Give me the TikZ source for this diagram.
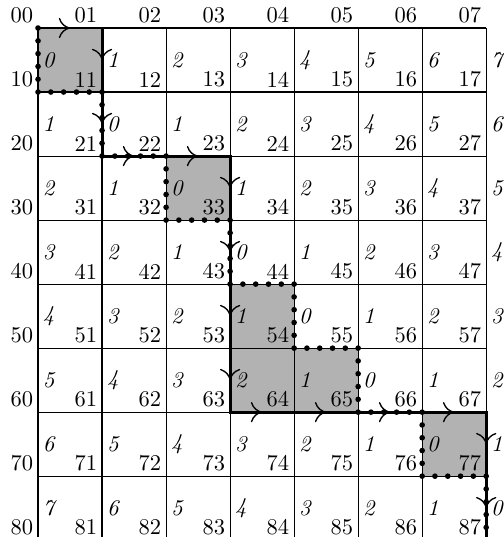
\documentclass[tikz,border=0pt]{standalone}
\usetikzlibrary{decorations.markings,arrows.meta}
\begin{document}
\begin{tikzpicture}[
        gridline/.style={line width=0.5pt},
        cell/.style={fill=gray!60},
        walk/.style={line width=1.3pt, postaction={decorate},
            decoration={markings, mark=between positions 0.5cm and 14.6cm step 1cm
                with {\arrow{To[length=5pt,width=9pt,line width=0.6pt]}}}},
        diag/.style={line width=2.5pt, line cap=round, dash pattern=on 0pt off 0.2cm},
        corner/.style={anchor=south east, inner sep=2pt},
        weight/.style={anchor=west, inner sep=2pt, font=\itshape}]
        \useasboundingbox (-0.594,0.4375) rectangle (7.266,-7.95);
        % points
            \foreach \i in {0,...,8}{
                \foreach \j in {0,...,7}{
                    \coordinate (p\i\j) at (\j,-\i);
                }
            }
        % shaded cells
            \fill[cell] (p00) -- (p01) -- (p11) -- (p10) -- cycle;
            \fill[cell] (p22) -- (p23) -- (p33) -- (p32) -- cycle;
            \fill[cell] (p43) -- (p44) -- (p54) -- (p55) -- (p65) -- (p63) -- cycle;
            \fill[cell] (p66) -- (p67) -- (p77) -- (p76) -- cycle;
            \draw[gridline] (p00) grid (p87);
        % labels
            \foreach \i in {0,...,8}{
                \foreach \j in {0,...,7}{
                    \node[corner] (l\i\j) at (p\i\j) {\i\j};
                }
            }
            \foreach \i in {1,...,8}{
                \foreach \j in {0,...,7}{
                    \pgfmathtruncatemacro{\w}{abs(\i-1-\j)}
                    \node[weight] (w\i\j) at (\j,0.5-\i) {\w};
                }
            }
        % paths
            \draw[walk] (p00) -- (p01) -- (p21) -- (p23) -- (p63) -- (p67) -- (p87);
            \draw[diag] (p00) -- (p10) -- (p11) -- (p21) -- (p22) -- (p32) -- (p33) -- (p43)
                -- (p44) -- (p54) -- (p55) -- (p65) -- (p66) -- (p76) -- (p77) -- (p87);
\end{tikzpicture}
\end{document}
